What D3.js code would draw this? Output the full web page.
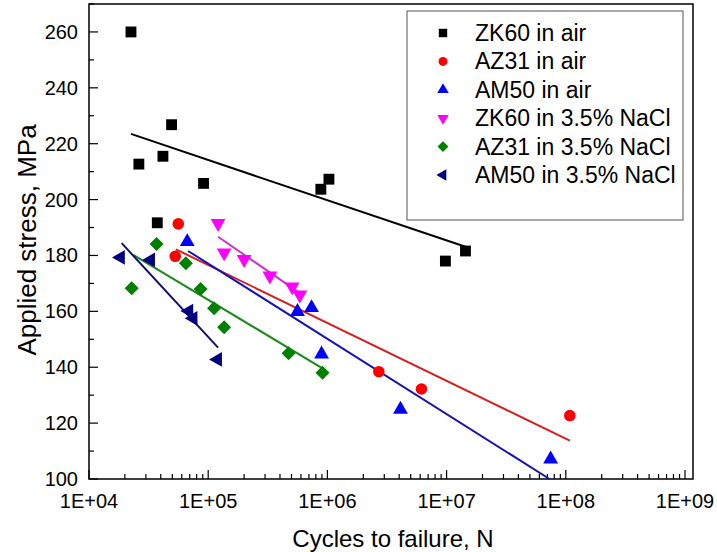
<!DOCTYPE html>
<meta charset="utf-8">
<style>
    body { margin: 0; background: #fff; }
    text { font-family: Arial, "Liberation Sans", sans-serif; fill: #000; }
    .frame { fill: none; stroke: #000; stroke-width: 1.5px; }
    .fit { fill: none; stroke-width: 2px; }
    .legend-box { fill: #fff; stroke: #555; stroke-width: 1px; }
</style>
<svg width="717" height="552"></svg>
<script src="https://cdnjs.cloudflare.com/ajax/libs/d3/7.8.5/d3.min.js"></script>
<script>

    // series: [cycles, stress MPa]
    var zk60Air = [[22500, 260], [26200, 212.7], [41700, 215.5], [49300, 226.8], [37400, 191.7],
        [91400, 205.8], [881000, 203.7], [1030000, 207.3], [9770000, 178.0], [14400000, 181.6]];
    var az31Air = [[56100, 191.3], [52900, 179.7], [2700000, 138.4], [6150000, 132.2], [108000000, 122.7]];
    var am50Air = [[66700, 184.9], [561000, 159.9], [736000, 161.3], [893000, 144.7], [4100000, 124.9], [74600000, 107.1]];
    var zk60NaCl = [[121000, 191.5], [136000, 181.0], [200000, 178.6], [329000, 172.7], [506000, 168.8], [587000, 165.9]];
    var az31NaCl = [[36900, 184.1], [22800, 168.3], [65000, 177.2], [86300, 168.0], [112000, 161.1],
        [136000, 154.3], [472000, 145.0], [910000, 138.0]];
    var am50NaCl = [[18400, 179.3], [32900, 178.4], [68900, 160.1], [74800, 157.5], [120000, 142.8]];

    // fitted lines: start and end points
    var zk60AirFit = [[22500, 223.5], [14400000, 183.1]];
    var az31AirFit = [[53600, 182.2], [108000000, 113.7]];
    var am50AirFit = [[67900, 181.6], [73000000, 100]];
    var zk60NaClFit = [[121000, 186.7], [587000, 166.5]];
    var az31NaClFit = [[23500, 180.2], [910000, 139.6]];
    var am50NaClFit = [[18800, 184.4], [121000, 147.0]];

    var seriesNames = ["ZK60 in air", "AZ31 in air", "AM50 in air",
        "ZK60 in 3.5% NaCl", "AZ31 in 3.5% NaCl", "AM50 in 3.5% NaCl"];
    var colors = ["#000000", "#ff0000", "#0000ff", "#ff00ff", "#008000", "#000080"];
    var lineColors = ["#000000", "#d42020", "#1414b4", "#cc33cc", "#1b8a1b", "#101070"];

    var xTickLabels = ["1E+04", "1E+05", "1E+06", "1E+07", "1E+08", "1E+09"];
    var yTickValues = [100, 120, 140, 160, 180, 200, 220, 240, 260];

    var series = [zk60Air, az31Air, am50Air, zk60NaCl, az31NaCl, am50NaCl];
    var fits = [zk60AirFit, az31AirFit, am50AirFit, zk60NaClFit, az31NaClFit, am50NaClFit];

    // marker shape per series: symbol type, rotation, size
    var shapes = [
        { type: d3.symbolSquare, rot: 0, size: 118 },
        { type: d3.symbolCircle, rot: 0, size: 105 },
        { type: d3.symbolTriangle, rot: 0, size: 95 },
        { type: d3.symbolTriangle, rot: 180, size: 95 },
        { type: d3.symbolSquare, rot: 45, size: 98 },
        { type: d3.symbolTriangle, rot: -90, size: 95 }
    ];

    var svg = d3.select("svg"),
        plotL = 89, plotR = 693, plotT = 4, plotB = 479;

    var x = d3.scaleLog()
        .domain([1e4, Math.pow(10, 9 + 8 / 119.3)])
        .range([plotL, plotR]);
    var y = d3.scaleLinear()
        .domain([100, 270])
        .range([plotB, plotT]);

    // x axis ticks (inward)
    var xMajor = [1e4, 1e5, 1e6, 1e7, 1e8, 1e9];
    var xMinor = [];
    xMajor.slice(0, 5).forEach(function (d) {
        for (var k = 2; k <= 9; k++) xMinor.push(d * k);
    });

    var xAxis = svg.append("g").attr("transform", "translate(0," + plotB + ")");
    xAxis.selectAll(".minor").data(xMinor).enter().append("line")
        .attr("x1", function (d) { return x(d); }).attr("x2", function (d) { return x(d); })
        .attr("y1", 0).attr("y2", -5)
        .attr("stroke", "#000").attr("stroke-width", 1.2);
    xAxis.selectAll(".major").data(xMajor).enter().append("line")
        .attr("x1", function (d) { return x(d); }).attr("x2", function (d) { return x(d); })
        .attr("y1", 0).attr("y2", -9)
        .attr("stroke", "#000").attr("stroke-width", 1.2);
    xAxis.selectAll(".lbl").data(xMajor).enter().append("text")
        .attr("x", function (d) { return x(d); })
        .attr("y", 29)
        .attr("text-anchor", "middle")
        .style("font-size", "20px")
        .text(function (d, i) { return xTickLabels[i]; });

    // y axis ticks
    var yAxis = svg.append("g").attr("transform", "translate(" + plotL + ",0)");
    yAxis.selectAll(".yt").data(d3.range(100, 271, 10)).enter().append("line")
        .attr("x1", 0)
        .attr("x2", function (d) { return d % 20 === 0 ? 9 : 5; })
        .attr("y1", function (d) { return y(d); }).attr("y2", function (d) { return y(d); })
        .attr("stroke", "#000").attr("stroke-width", 1.2);
    yAxis.selectAll(".lbl").data(yTickValues).enter().append("text")
        .attr("x", -11)
        .attr("y", function (d) { return y(d) + 7; })
        .attr("text-anchor", "end")
        .style("font-size", "20px")
        .text(function (d) { return d; });

    // frame
    svg.append("rect").attr("class", "frame")
        .attr("x", plotL).attr("y", plotT)
        .attr("width", plotR - plotL).attr("height", plotB - plotT);

    // axis titles
    svg.append("text")
        .attr("x", (plotL + plotR) / 2 + 2).attr("y", 547)
        .attr("text-anchor", "middle")
        .style("font-size", "24px")
        .text("Cycles to failure, N");
    svg.append("text")
        .attr("transform", "translate(36," + 240 + ") rotate(-90)")
        .attr("text-anchor", "middle")
        .style("font-size", "26px")
        .text("Applied stress, MPa");

    // fit lines
    var line = d3.line()
        .x(function (d) { return x(d[0]); })
        .y(function (d) { return y(d[1]); });
    svg.append("g").selectAll("path").data(fits).enter().append("path")
        .attr("class", "fit")
        .attr("stroke", function (d, i) { return lineColors[i]; })
        .attr("d", line);

    // markers
    series.forEach(function (s, i) {
        var sh = shapes[i];
        svg.append("g").selectAll("path").data(s).enter().append("path")
            .attr("d", d3.symbol().type(sh.type).size(sh.size))
            .attr("fill", colors[i])
            .attr("transform", function (d) {
                return "translate(" + x(d[0]) + "," + y(d[1]) + ") rotate(" + sh.rot + ")";
            });
    });

    // legend
    var lg = svg.append("g");
    lg.append("rect").attr("class", "legend-box")
        .attr("x", 407).attr("y", 11).attr("width", 276).attr("height", 209);
    var rows = lg.selectAll(".row").data(seriesNames).enter().append("g")
        .attr("transform", function (d, i) { return "translate(443," + (33 + i * 28.4) + ")"; });
    rows.append("path")
        .attr("d", function (d, i) { return d3.symbol().type(shapes[i].type).size(shapes[i].size * 0.6)(); })
        .attr("fill", function (d, i) { return colors[i]; })
        .attr("transform", function (d, i) { return "rotate(" + shapes[i].rot + ")"; });
    rows.append("text")
        .attr("x", 32).attr("y", 8)
        .style("font-size", "23px")
        .text(function (d) { return d; });

</script>
